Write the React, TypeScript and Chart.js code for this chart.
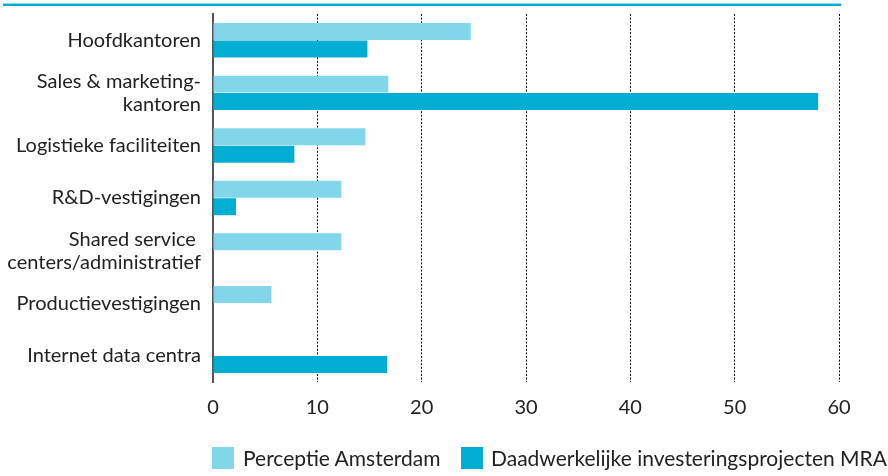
import React, { useEffect, useRef } from "react";
import { Chart, registerables } from "chart.js";

Chart.register(...registerables);

const categories: (string | string[])[] = [
  "Hoofdkantoren",
  ["Sales & marketing-", "kantoren"],
  "Logistieke faciliteiten",
  "R&D-vestigingen",
  ["Shared service ", "centers/administratief"],
  "Productievestigingen",
  "Internet data centra",
];

const perceptieAmsterdam: (number | null)[] = [24.7, 16.8, 14.6, 12.3, 12.3, 5.6, null];
const daadwerkelijkeMRA: (number | null)[] = [14.8, 58, 7.8, 2.2, null, null, 16.7];

const xTicks = [0, 10, 20, 30, 40, 50, 60];

const seriesLabels = ["Perceptie Amsterdam", "Daadwerkelijke investeringsprojecten MRA"];
const LIGHT = "#82d6e9";
const DARK = "#00aed3";
const FONT = "Lato, 'Open Sans', sans-serif";

const topLine = {
  id: "topLine",
  beforeDraw(chart: any) {
    const ctx = chart.ctx;
    ctx.save();
    ctx.fillStyle = LIGHT;
    ctx.fillRect(3, 3, 838, 1);
    ctx.fillStyle = DARK;
    ctx.fillRect(3, 4, 838, 2);
    ctx.restore();
  },
};

export default function App() {
  const ref = useRef<HTMLCanvasElement>(null);

  useEffect(() => {
    if (!ref.current) return;
    const chart = new Chart(ref.current, {
      type: "bar",
      data: {
        labels: categories,
        datasets: [
          {
            label: seriesLabels[0],
            data: perceptieAmsterdam,
            backgroundColor: LIGHT,
            categoryPercentage: 0.665,
            barPercentage: 0.97,
          },
          {
            label: seriesLabels[1],
            data: daadwerkelijkeMRA,
            backgroundColor: DARK,
            categoryPercentage: 0.665,
            barPercentage: 0.97,
          },
        ],
      },
      options: {
        indexAxis: "y",
        animation: false,
        responsive: false,
        maintainAspectRatio: false,
        layout: { padding: { left: 0, top: 14, right: 49, bottom: 54 } },
        plugins: { legend: { display: false }, tooltip: { enabled: false } },
        scales: {
          x: {
            min: 0,
            max: 60,
            afterBuildTicks: (scale: any) => {
              scale.ticks = xTicks.map((v) => ({ value: v }));
            },
            afterFit: (scale: any) => {
              scale.height = 40;
              scale.paddingLeft = 0;
              scale.paddingRight = 0;
            },
            ticks: {
              color: "#222",
              font: { family: FONT, size: 20 },
              padding: 14,
            },
            grid: {
              drawTicks: false,
              color: (c: any) => (c.tick && c.tick.value === 0 ? "rgba(0,0,0,0)" : "#000"),
              lineWidth: 1,
            },
            border: { display: false, dash: [2, 1.6] },
          },
          y: {
            afterFit: (scale: any) => {
              scale.width = 213;
              scale.paddingTop = 0;
              scale.paddingBottom = 0;
            },
            ticks: {
              color: "#222",
              font: { family: FONT, size: 20, lineHeight: 1.15 },
              padding: 12,
            },
            grid: { display: false, drawTicks: false },
            border: { display: true, color: "#555", width: 2 },
          },
        },
      },
      plugins: [topLine],
    });
    return () => chart.destroy();
  }, []);

  const legendText: React.CSSProperties = {
    position: "absolute",
    top: 446,
    fontFamily: FONT,
    fontSize: 21,
    color: "#222",
    lineHeight: "24px",
    whiteSpace: "nowrap",
  };

  return (
    <div style={{ position: "fixed", left: 0, top: 0, width: 888, height: 476, background: "#fff" }}>
      <canvas ref={ref} width={888} height={476} style={{ position: "absolute", left: 0, top: 0 }} />
      <div style={{ position: "absolute", left: 212, top: 447, width: 22, height: 22, background: LIGHT }} />
      <div style={{ ...legendText, left: 243 }}>{seriesLabels[0]}</div>
      <div style={{ position: "absolute", left: 461, top: 447, width: 22, height: 22, background: DARK }} />
      <div style={{ ...legendText, left: 491 }}>{seriesLabels[1]}</div>
    </div>
  );
}
